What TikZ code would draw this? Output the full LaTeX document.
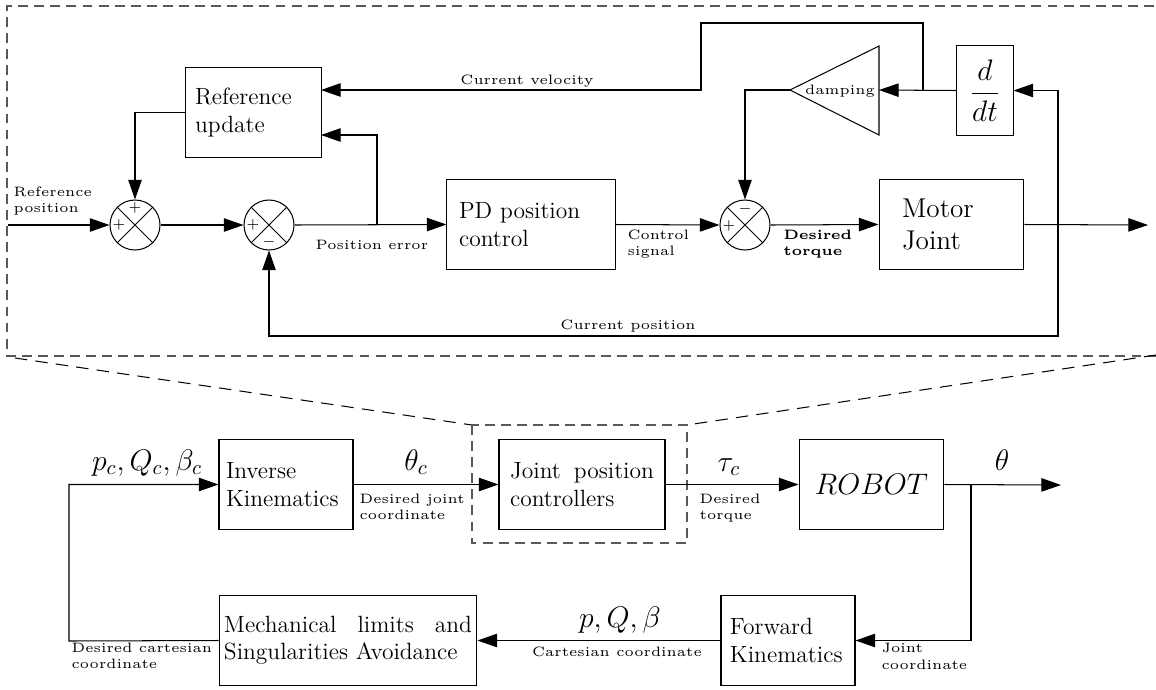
\documentclass[tikz,border=0pt]{standalone}
\usetikzlibrary{arrows.meta}
\newcommand\nohyph{\hyphenpenalty 10000\exhyphenpenalty 10000\relax}
\begin{document}
\begin{tikzpicture}[x=0.485pt,y=-0.485pt,line width=0.5pt,
  arr/.style={-{Triangle[length=9.5pt,width=6.5pt]}},
  blk/.style={draw,minimum height=43.2pt,inner sep=0pt},
  topfont/.style={font=\fontsize{11.4}{13.6}\selectfont},
  botfont/.style={font=\fontsize{11.4}{13.2}\selectfont\nohyph},
  sumc/.style={draw,circle,minimum size=24.25pt,inner sep=0pt},
  sgn/.style={font=\fontsize{7.5}{9}\selectfont,inner sep=0pt},
  slab/.style={font=\fontsize{5}{6}\selectfont,scale=1.32,align=left,inner sep=0pt},
  mlab/.style={font=\fontsize{14.4}{17}\selectfont,inner sep=0pt,anchor=base},
  zoombox/.style={draw=black!65,dash pattern=on 4.8pt off 3pt},
  zoomline/.style={dash pattern=on 6pt off 4pt,line width=0.5pt}]
\useasboundingbox (0,0) rectangle (1156,689);

% ---------- top diagram ----------
\path[zoombox] (1170,6) -- (7,6) -- (7,356) -- (1170,356);

\node[blk,topfont,minimum width=65.5pt,text width=56.7pt,align=left] (ru) at (253.5,112.5) {Reference\\update};
\node[blk,topfont,minimum width=81.5pt,text width=69.8pt,align=left] (pd) at (531,224.5) {PD position\\control};
\node[blk,font=\fontsize{13.2}{15.6}\selectfont,minimum width=70.3pt,text width=48pt,align=left] (mj) at (951.5,224.5) {Motor\\Joint};
\node[blk,minimum width=27.2pt] (dd) at (985,90.5) {\fontsize{13.7}{16}\selectfont$\displaystyle\frac{d}{dt}$};

\node[sumc] (s1) at (135,225) {};
\node[sumc] (s2) at (269,225) {};
\node[sumc] (s3) at (745,225) {};
\foreach \s in {s1,s2,s3}{
  \draw (\s.north east) -- (\s.south west) (\s.north west) -- (\s.south east);
}
\node[sgn] at (119,225) {$+$};
\node[sgn] at (135,208) {$+$};
\node[sgn] at (253,225) {$+$};
\node[sgn] at (269,242) {$-$};
\node[sgn] at (729,226) {$+$};
\node[sgn] at (745,209) {$-$};

% damping triangle
\coordinate (tt) at (790,90);
\coordinate (tb) at (879,90);
\draw (tt) -- (879,46) -- (879,135) -- cycle;
\node[slab,anchor=base] (dmp) at (840,94) {damping};

\coordinate (rin) at (8,225);
\coordinate (b1) at (377,225);
\coordinate (ru2) at (321,135);
\coordinate (ru1) at (321,90);
\coordinate (vj) at (923,90);
\coordinate (v1) at (923,23);
\coordinate (v2) at (701,23);
\coordinate (v3) at (701,90);
\coordinate (fj) at (1058,225);
\coordinate (fb) at (1058,336);
\coordinate (out1) at (1148,225);

\draw[arr] (rin) -- (s1.west);
\draw[arr] (ru.west) -| (s1.north);
\draw[arr] (s1.east) -- (s2.west);
\draw[arr] (s2.east) -- (pd.west);
\draw[arr] (b1) |- (ru2);
\draw[arr] (pd.east) -- (s3.west);
\draw[arr] (s3.east) -- (mj.west);
\draw[arr] (mj.east) -- (out1);
\draw[arr] (fj) |- (dd.east);
\draw[arr] (fj) -- (fb) -| (s2.south);
\draw[arr] (dd.west) -- (tb);
\draw[arr] (vj) -- (v1) -- (v2) -- (v3) -- (ru1);
\draw[arr] (tt) -| (s3.north);

\node[slab,anchor=north west] at (13,186) {Reference\\position};
\node[slab,anchor=north west] at (315,240) {Position error};
\node[slab,anchor=north west] at (627,229) {Control\\signal};
\node[slab,anchor=north west,font=\fontsize{5}{6}\selectfont\bfseries] at (783,229) {Desired\\torque};
\node[slab,anchor=north] at (527,74) {Current velocity};
\node[slab,anchor=north] at (628,319) {Current position};

% ---------- zoom lines ----------
\draw[zoomline] (15,358) -- (472,425);
\draw[zoomline] (1156,355) -- (687,425);
\draw[zoombox] (472,425) rectangle (687,543);

% ---------- bottom diagram ----------
\node[blk,botfont,minimum width=65pt,text width=58.2pt,align=justify] (ik) at (286,484.5) {Inverse Kinematics};
\node[blk,botfont,minimum width=80.5pt,text width=69.8pt,align=justify] (jpc) at (582,484.5) {Joint position controllers};
\node[blk,minimum width=70.3pt,font=\fontsize{14.4}{17}\selectfont] (rob) at (871.5,484.5) {$ROBOT$};
\node[blk,botfont,minimum width=125.1pt,text width=120.3pt,align=justify] (mech) at (348,640.5) {Mechanical limits and Singularities Avoidance};
\node[blk,botfont,minimum width=65pt,text width=56.3pt,align=justify] (fk) at (788,640.5) {Forward Kinematics};

\coordinate (cl) at (69,641);
\coordinate (b2) at (971,485);
\coordinate (out2) at (1061,485);

\draw[arr] (mech.west) -- (cl) |- (ik.west);
\draw[arr] (ik.east) -- (jpc.west);
\draw[arr] (jpc.east) -- (rob.west);
\draw[arr] (rob.east) -- (out2);
\draw[arr] (b2) |- (fk.east);
\draw[arr] (fk.west) -- (mech.east);

\node[mlab] at (147,470) {$p_c,Q_c,\beta_c$};
\node[mlab] at (416,470) {$\theta_c$};
\node[mlab] at (729,471) {$\tau_c$};
\node[mlab] at (1002,470) {$\theta$};
\node[mlab] at (620,627) {$p,Q,\beta$};

\node[slab,anchor=north west] at (359,493) {Desired joint\\coordinate};
\node[slab,anchor=north west] at (699,493) {Desired\\torque};
\node[slab,anchor=north west] at (881,643) {Joint\\coordinate};
\node[slab,anchor=north] at (617,646) {Cartesian coordinate};
\node[slab,anchor=north west] at (71,642) {Desired cartesian\\coordinate};
\end{tikzpicture}
\end{document}
